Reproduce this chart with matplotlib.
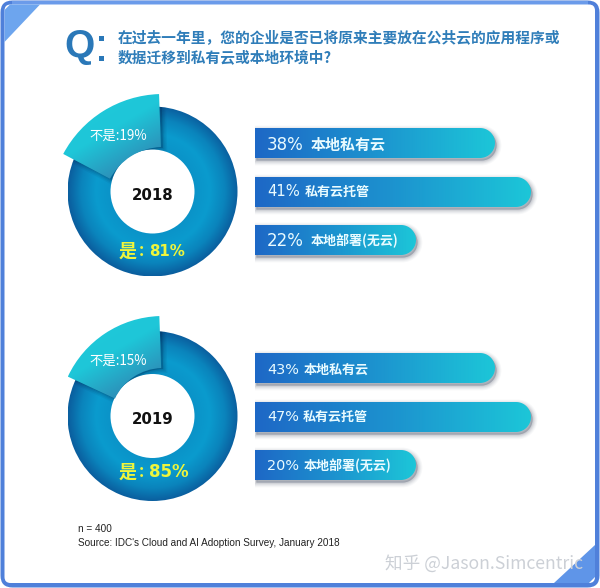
import numpy as np
import matplotlib
matplotlib.use("Agg")
import matplotlib.pyplot as plt
from matplotlib.patches import Wedge, FancyBboxPatch, Polygon, Rectangle
from matplotlib.colors import LinearSegmentedColormap

CJK = ['Noto Sans CJK SC', 'DejaVu Sans']
plt.rcParams['font.family'] = CJK

# ---- data ----
years = ['2018', '2019']
yes_share = [81, 85]
no_share = [19, 15]
bar_labels = [['本地私有云', '私有云托管', '本地部署(无云)'],
              ['本地私有云', '私有云托管', '本地部署(无云)']]
bar_values = [[38, 41, 22], [43, 47, 20]]
# drawn bar lengths (the original is not to scale)
bar_lengths = [[240, 276, 161], [240, 276, 161]]
question = ['在过去一年里，您的企业是否已将原来主要放在公共云的应用程序或',
            '数据迁移到私有云或本地环境中?']
notes = ['n = 400', "Source: IDC's Cloud and AI Adoption Survey, January 2018"]

# ---- layout (pixels, y measured from the top) ----
W, H = 600, 588
ring_center = [(152.5, 191.5), (152.5, 416)]
R_OUT, R_IN = 85, 42
pop_apex = [(163, 207), (163, 421)]
pop_r = [(113, 60), (105, 53)]
pop_theta = [(92, 152), (92, 155)]
bar_x = 255
bar_tops = [[128, 177, 225], [353, 402, 450]]
BAR_H = 30
text_y = [[145, 192, 241], [370, 417, 466]]
label_x = [[311, 305, 311], [304, 303, 304]]
label_size = [[10.8, 9.4, 9.4], [9.4, 9.4, 9.4]]
value_size = [[12, 10.6, 12], [10.4, 10.4, 10.4]]
yes_y = [251, 472]
yes_size = [10.8, 12]

fig = plt.figure(figsize=(W / 100, H / 100), dpi=100)
ax = fig.add_axes([0, 0, 1, 1])
ax.set_xlim(0, W)
ax.set_ylim(0, H)
ax.set_autoscale_on(False)
ax.axis('off')


def Y(py):
    return H - py


def fill_gradient(patch, func, zorder):
    """Paint a patch with a colour image clipped to its outline."""
    patch.set_facecolor('none')
    patch.set_edgecolor('none')
    ax.add_patch(patch)
    x0, y0, x1, y1 = patch.get_path().transformed(patch.get_patch_transform()).get_extents().extents
    xs = np.linspace(x0, x1, 300)
    ys = np.linspace(y0, y1, 300)
    xx, yy = np.meshgrid(xs, ys)
    im = ax.imshow(func(xx, yy), extent=(x0, x1, y0, y1), origin='lower', aspect='auto',
                   interpolation='bilinear', zorder=zorder)
    im.set_clip_path(patch)


def cmap(*cols):
    return LinearSegmentedColormap.from_list('g', list(cols))


# ---- frame ----
ax.add_patch(FancyBboxPatch((0.5, 0.5), W - 1, H - 1, boxstyle='round,pad=0,rounding_size=12',
                            fc='#4f80da', ec='none', zorder=1))
ax.add_patch(Rectangle((12, H - 4.5), W - 24, 4, fc='#6b9bea', ec='none', zorder=1.5))
ax.add_patch(FancyBboxPatch((4.5, 5), W - 9.5, H - 9.5, boxstyle='round,pad=0,rounding_size=6',
                            fc='white', ec='none', zorder=2))
ax.add_patch(Polygon([(4.5, Y(42)), (4.5, Y(10)), (10, Y(4.5)), (40, Y(4.5))], fc='#6da5ee', ec='none', zorder=3))
ax.add_patch(Polygon([(595, Y(545)), (595, Y(577)), (589, Y(583)), (554, Y(583))], fc='#5f95e8', ec='none', zorder=3))

# ---- question ----
ax.text(79.5, Y(47), 'Q', family=['Liberation Sans', 'DejaVu Sans'], weight='bold',
        fontsize=28, color='#2a78b8', ha='center', va='center', zorder=5)
for py in (38, 58):
    ax.add_patch(Rectangle((98.5, Y(py + 2.5)), 5, 5, fc='#2a78b8', ec='none', zorder=5))
for line, py in zip(question, (38, 58)):
    ax.text(118, Y(py), line, fontsize=10.6, weight='bold', color='#2f7db9',
            ha='left', va='center', zorder=5)

ring_cm = LinearSegmentedColormap.from_list('r', [(0, '#0a93c8'), (.35, '#0a9bce'),
                                                  (.7, '#0a84bc'), (1, '#0a5f9f')])
pop_cm = LinearSegmentedColormap.from_list('p', [(0, '#20cadb'), (.45, '#1ec6d8'),
                                                 (.78, '#2c92ba'), (1, '#1f80ae')])
bar_cm = cmap('#1e68c6', '#1c93cf', '#1cc6d8')

for i, year in enumerate(years):
    cx, cy = ring_center[i]
    ap_x, ap_y = pop_apex[i]
    r1, r0 = pop_r[i]
    t0, t1 = pop_theta[i]

    # main ring
    ring = Wedge((cx, Y(cy)), R_OUT, 0, 360, width=R_OUT - R_IN)

    def ring_col(xx, yy, cx=cx, cy=Y(cy)):
        return ring_cm(np.clip((np.hypot(xx - cx, yy - cy) - R_IN) / (R_OUT - R_IN), 0, 1))
    fill_gradient(ring, ring_col, 4)

    # soft shadow of the popped segment, on the ring only
    for k, a in ((6, .06), (4, .08), (2, .10)):
        sh = Wedge((ap_x + 1.5, Y(ap_y) - 1), r1, t0 - 0.5, t1, width=r1 - r0,
                   fc=(0, .1, .25, a), ec=(0, .1, .25, a), lw=k, zorder=5)
        ax.add_patch(sh)
        sh.set_clip_path(ring)

    # popped "no" segment
    seg = Wedge((ap_x, Y(ap_y)), r1, t0, t1, width=r1 - r0)

    def seg_col(xx, yy):
        s = (xx - xx.min()) * .5 + (yy.max() - yy) * .85
        return pop_cm(s / s.max())
    fill_gradient(seg, seg_col, 6)

    # texts on the donut
    ax.text(cx + 0.5, Y(cy + 3.5), year, fontsize=10.8, color='#111111', ha='center', va='center',
            family=['DejaVu Sans'], weight='bold', zorder=8)
    ax.text(118, Y(cy - 55.3), f'不是:{no_share[i]}%', fontsize=9.6, color='white',
            ha='center', va='center', zorder=8)
    ax.text(128, Y(yes_y[i]), '是', fontsize=13, weight='bold', color='#eef53c',
            ha='center', va='center', zorder=8)
    ax.text(141, Y(yes_y[i]), ':', fontsize=12, weight='bold', color='#eef53c',
            ha='center', va='center', zorder=8)
    ax.text(149, Y(yes_y[i]), f'{yes_share[i]}%', fontsize=yes_size[i], weight='bold', color='#eef53c',
            family=['DejaVu Sans'], ha='left', va='center', zorder=8)

    # right-hand bars
    for j, (label, val, length, top) in enumerate(zip(bar_labels[i], bar_values[i], bar_lengths[i], bar_tops[i])):
        r = BAR_H / 2
        ang = np.linspace(90, -90, 40)
        xe = bar_x + length - r
        yc = Y(top + r)
        pts = [(bar_x, yc + r)] + [(xe + r * np.cos(np.radians(a)), yc + r * np.sin(np.radians(a))) for a in ang] + [(bar_x, yc - r)]
        for lw, al in ((7, .03), (5.5, .04), (4, .05), (2.5, .07), (1, .08)):
            shifted = [(px + 1.5, py - 2.5) for px, py in pts]
            ax.add_patch(Polygon(shifted, closed=True, fc=(0.1, .15, .25, al), ec=(0.1, .15, .25, al),
                                 lw=lw, zorder=3))
        # keep the shadow from spilling left of the bar
        ax.add_patch(Rectangle((bar_x - 8, yc - r - 8), 8, BAR_H + 14, fc='white', ec='none', zorder=3.5))
        bar = Polygon(pts, closed=True)
        fill_gradient(bar, lambda xx, yy, x0=bar_x, L=length: bar_cm(np.clip((xx - x0) / L, 0, 1)), 4)
        ax.text(267, Y(text_y[i][j]), f'{val}%', fontsize=value_size[i][j], color='#e9fbff',
                family=['DejaVu Sans'], ha='left', va='center', zorder=8)
        ax.text(label_x[i][j], Y(text_y[i][j]), label, fontsize=label_size[i][j], weight='bold', color='#e9fbff',
                ha='left', va='center', zorder=8)

# ---- footnotes ----
for line, py in zip(notes, (529, 543)):
    ax.text(78, Y(py), line, fontsize=7.2, color='#222222', ha='left', va='center',
            family=['Liberation Sans', 'DejaVu Sans'], zorder=6)

# ---- watermark ----
ax.text(385, Y(564), '知乎 @Jason.Simcentric', fontsize=12.7, color='#ccd0d6', ha='left', va='center',
        family=['Noto Sans CJK SC', 'DejaVu Sans'], zorder=9)

fig.savefig('out.png', dpi=100)
